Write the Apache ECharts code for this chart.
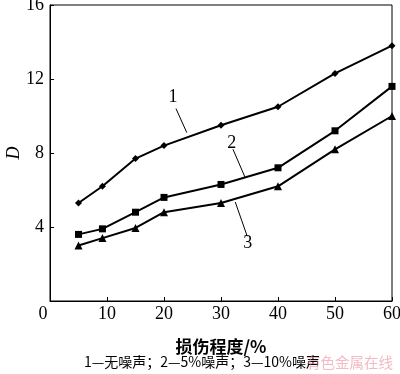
<!DOCTYPE html>
<html><head><meta charset="utf-8">
<script src="https://cdn.jsdelivr.net/npm/echarts@6/dist/echarts.min.js"></script>
<style>html,body{margin:0;padding:0;background:#fff;}#c{width:400px;height:374px;}</style>
</head><body><div id="c"></div>
<script>
const damage = [5, 9.2, 15, 20, 30, 40, 50, 60];
const noNoise = [5.3, 6.2, 7.7, 8.4, 9.5, 10.5, 12.3, 13.8];
const noise5 = [3.6, 3.9, 4.8, 5.6, 6.3, 7.2, 9.2, 11.6];
const noise10 = [3.0, 3.4, 3.95, 4.8, 5.3, 6.2, 8.2, 10.0];
const seriesNames = ['1', '2', '3'];
const labelPos = [[21.6, 11.0], [31.9, 8.5], [34.7, 3.1]];
const leaders = [[[22.1, 10.4], [24.0, 9.1]], [[32.1, 8.2], [34.2, 6.7]], [[34.6, 3.5], [32.5, 5.35]]];
const xTicks = [0, 10, 20, 30, 40, 50, 60];
const yTicks = [0, 4, 8, 12, 16];
const xName = '损伤程度/%';
const yName = 'D';
const caption = '1—无噪声；2—5%噪声；3—10%噪声';
const watermark = '有色金属在线';

const serif = '"Liberation Serif","DejaVu Serif",serif';
const symbols = ['diamond', 'rect', 'triangle'];
const sizes = [7, 7, 8];
const values = [noNoise, noise5, noise10];

const chart = echarts.init(document.getElementById('c'), null, {renderer: 'canvas'});
chart.setOption({
  animation: false,
  backgroundColor: '#fff',
  grid: {left: 50, top: 5, right: 8, bottom: 73, containLabel: false, outerBoundsMode: 'none',
    show: true, borderColor: '#000', borderWidth: 1, backgroundColor: 'transparent'},
  xAxis: {
    type: 'value', min: 0, max: 60, interval: 10,
    name: xName, nameLocation: 'middle', nameGap: 37, nameMoveOverlap: false,
    nameTextStyle: {fontFamily: '"Noto Sans CJK SC",sans-serif', fontSize: 17, color: '#000', fontWeight: 'bold'},
    axisLine: {lineStyle: {color: '#000', width: 1}},
    axisTick: {inside: true, length: 4, lineStyle: {color: '#000'}},
    splitLine: {show: false},
    axisLabel: {fontFamily: serif, fontSize: 18, color: '#000', margin: 4,
      formatter: v => v === 0 ? '{z|0}' : String(v),
      rich: {z: {fontFamily: serif, fontSize: 18, color: '#000', padding: [0, 14, 0, 0]}}}
  },
  yAxis: {
    type: 'value', min: 0, max: 16, interval: 4,
    name: yName, nameLocation: 'middle', nameGap: 27, nameRotate: 90, nameMoveOverlap: false,
    nameTextStyle: {fontFamily: serif, fontSize: 18, color: '#000', fontStyle: 'italic'},
    axisLine: {lineStyle: {color: '#000', width: 1}},
    axisTick: {inside: true, length: 4, lineStyle: {color: '#000'}},
    splitLine: {show: false},
    axisLabel: {fontFamily: serif, fontSize: 18, color: '#000', margin: 6,
      formatter: v => v === 0 ? '' : String(v)}
  },
  series: values.map((vals, i) => ({
    type: 'line',
    name: seriesNames[i],
    data: damage.map((x, j) => [x, vals[j]]),
    symbol: symbols[i], symbolSize: sizes[i],
    lineStyle: {color: '#000', width: 2},
    itemStyle: {color: '#000'},
    markLine: {
      silent: true, symbol: 'none',
      lineStyle: {color: '#000', width: 1, type: 'solid'},
      label: {show: false},
      data: [[{coord: leaders[i][0]}, {coord: leaders[i][1]}]]
    },
    markPoint: {
      silent: true, symbol: 'circle', symbolSize: 1,
      itemStyle: {color: 'rgba(0,0,0,0)'},
      label: {show: true, position: 'inside', formatter: seriesNames[i], fontFamily: serif, fontSize: 18, color: '#000'},
      data: [{coord: labelPos[i]}]
    }
  })),
  graphic: [
    {type: 'text', left: 84, top: 355, style: {text: caption, font: '14px "Noto Sans CJK SC", sans-serif', fill: '#000'}},
    {type: 'text', left: 306, top: 355, style: {text: watermark, font: '14.5px "Noto Sans CJK SC", sans-serif', fill: 'rgba(235,140,155,0.6)'}}
  ]
});
</script></body></html>
